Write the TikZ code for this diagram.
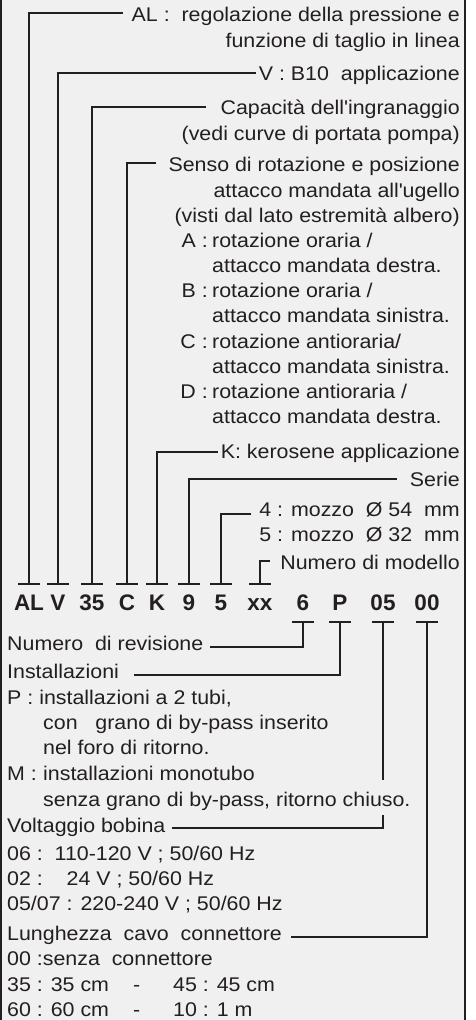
\documentclass[tikz,border=0pt]{standalone}
\usepackage{fontspec}
\setmainfont{Liberation Sans}[FakeStretch=1.08]
\newfontfamily\codefont{Liberation Sans}
\definecolor{ink}{HTML}{231F20}
\definecolor{paper}{HTML}{F0F0F0}
\begin{document}
\begin{tikzpicture}[x=1pt,y=-1pt,
    txt/.style={font=\fontsize{19.8}{24}\selectfont, inner sep=0pt, text=ink},
    code/.style={font=\codefont\bfseries\fontsize{22.5}{24}\selectfont, inner sep=0pt, text=ink},
    lead/.style={draw=ink, line width=2pt}]
  \useasboundingbox (0,0) rectangle (476,1020);
  \fill[paper] (0,0) rectangle (466,1020);
  \draw[lead] (1,0) -- (1,1020);
  \draw[lead] (465,0) -- (465,1020);

  % code row
  \foreach \n/\x in {AL/29,V/58,35/92,C/127,K/157,9/189,5/221,xx/260,6/303,P/340,05/383,00/427}
    \node[code, anchor=base] (c\n) at (\x,610) {\n};
  \foreach \n in {AL,V,35,C,K,9,5,xx}{
    \coordinate (t\n) at ([yshift=26pt]c\n.base);
    \draw[lead] ([xshift=-11pt]t\n) -- ([xshift=11pt]t\n);
  }
  \foreach \n in {6,P,05,00}{
    \coordinate (t\n) at ([yshift=-12pt]c\n.base);
    \draw[lead] ([xshift=-11pt]t\n) -- ([xshift=11pt]t\n);
  }

  % upper legend
  \node[txt, anchor=base east] (al1) at (460,21) {AL :\ \ regolazione della pressione e};
  \node[txt, anchor=base east] (al2) at (460,47) {funzione di taglio in linea};
  \node[txt, anchor=base east] (v) at (460,80) {V : B10\ \ applicazione};
  \node[txt, anchor=base east] (cap1) at (460,114) {Capacità dell\textquotesingle ingranaggio};
  \node[txt, anchor=base east] (cap2) at (460,140) {(vedi curve di portata pompa)};
  \node[txt, anchor=base east] (sen1) at (460,171) {Senso di rotazione e posizione};
  \node[txt, anchor=base east] (sen2) at (460,197) {attacco mandata all\textquotesingle ugello};
  \node[txt, anchor=base east] (sen3) at (460,222) {(visti dal lato estremità albero)};
  \foreach \k/\y/\a/\b in {A/247/rotazione oraria \slash/attacco mandata destra.,
      B/297/rotazione oraria \slash/attacco mandata sinistra.,
      C/348/rotazione antioraria\slash/attacco mandata sinistra.,
      D/398/rotazione antioraria \slash/attacco mandata destra.}{
    \node[txt, anchor=base east] (k\k) at (208,\y) {\k\ :};
    \node[txt, anchor=base west] (r\k) at (212,\y) {\a};
    \node[txt, anchor=base west] (s\k) at (212,\y+25.5) {\b};
  }
  \node[txt, anchor=base east] (ker) at (460,458) {K: kerosene applicazione};
  \node[txt, anchor=base east] (serie) at (460,486) {Serie};
  \node[txt, anchor=base east] (m4) at (460,516) {4 : mozzo\ \ Ø 54\ \ mm};
  \node[txt, anchor=base east] (m5) at (460,541) {5 : mozzo\ \ Ø 32\ \ mm};
  \node[txt, anchor=base east] (mod) at (460,569) {Numero di modello};

  \draw[lead] ([xshift=-9pt,yshift=8pt]al1.base west) -| (tAL);
  \draw[lead] ([xshift=-3pt,yshift=7pt]v.base west) -| (tV);
  \draw[lead] ([xshift=-14pt,yshift=7pt]cap1.base west) -| (t35);
  \draw[lead] ([xshift=-12pt,yshift=8pt]sen1.base west) -| (tC);
  \draw[lead] ([xshift=-3pt,yshift=6pt]ker.base west) -| (tK);
  \draw[lead] ([xshift=-13pt,yshift=7pt]serie.base west) -| (t9);
  \draw[lead] ([xshift=-8pt,yshift=2pt]m4.base west) -| (t5);
  \draw[lead] ([xshift=-10pt,yshift=8pt]mod.base west) -| (txx);

  % lower legend
  \node[txt, anchor=base west] (rev) at (7,650) {Numero\ \ di revisione};
  \node[txt, anchor=base west] (ins) at (7,678) {Installazioni};
  \node[txt, anchor=base west] (pin) at (7,704) {P : installazioni a 2 tubi,};
  \node[txt, anchor=base west] (con) at (43,729) {con\ \ \ grano di by-pass inserito};
  \node[txt, anchor=base west] (nel) at (43,754) {nel foro di ritorno.};
  \node[txt, anchor=base west] (mon) at (7,780) {\makebox[36pt][l]{M :}installazioni monotubo};
  \node[txt, anchor=base west] (senza) at (43,806) {senza grano di by-pass, ritorno chiuso.};
  \node[txt, anchor=base west] (volt) at (7,832) {Voltaggio bobina};
  \node[txt, anchor=base west] (v06) at (7,860) {06 :\ \ 110-120 V ; 50/60 Hz};
  \node[txt, anchor=base west] (v02) at (7,885) {02 :\ \ \ \ 24 V ; 50/60 Hz};
  \node[txt, anchor=base west] (v05) at (7,910) {05/07 : 220-240 V ; 50/60 Hz};
  \node[txt, anchor=base west] (lun) at (7,940) {Lunghezza\ \ cavo\ \ connettore};
  \node[txt, anchor=base west] (l00) at (7,965) {00 :senza\ \ connettore};
  \node[txt, anchor=base west] (l35) at (7,991) {\makebox[126pt][l]{35 : 35 cm}\makebox[40pt][l]{-}45 : 45 cm};
  \node[txt, anchor=base west] (l60) at (7,1016) {\makebox[126pt][l]{60 : 60 cm}\makebox[40pt][l]{-}10 : 1 m};

  \draw[lead] (t6) |- ([xshift=6pt,yshift=3pt]rev.base east);
  \draw[lead] (tP) |- ([xshift=15pt,yshift=3pt]ins.base east);
  \coordinate (brk) at (c05 |- senza.south);
  \draw[lead] (t05) -- (c05 |- mon.base);
  \draw[lead] ([yshift=-5pt]brk) |- ([xshift=6pt,yshift=4pt]volt.base east);
  \draw[lead] (t00) |- ([xshift=9pt,yshift=3pt]lun.base east);
\end{tikzpicture}
\end{document}
